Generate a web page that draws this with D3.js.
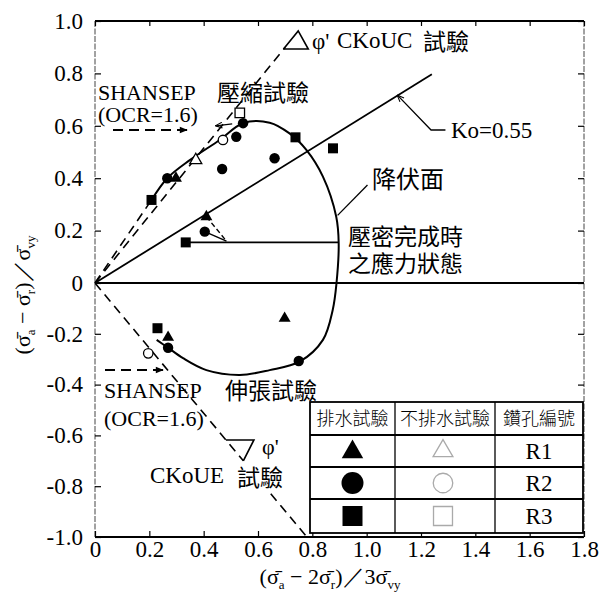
<!DOCTYPE html>
<html>
<head>
<meta charset="utf-8">
<script src="https://cdn.jsdelivr.net/npm/d3@7"></script>
<style>
  body { margin: 0; background: #fff; }
  svg { display: block; }
</style>
</head>
<body>
<svg id="chart" width="607" height="600"></svg>
<script>
// ---- axis ticks ----
const xTicks = [0, 0.2, 0.4, 0.6, 0.8, 1.0, 1.2, 1.4, 1.6, 1.8];
const yTicks = [-1.0, -0.8, -0.6, -0.4, -0.2, 0, 0.2, 0.4, 0.6, 0.8, 1.0];

// ---- drained tests (filled symbols) ----
const drainedTriX  = [0.298, 0.410, 0.269, 0.698];
const drainedTriY  = [0.400, 0.253, -0.214, -0.139];
const drainedCircX = [0.266, 0.404, 0.468, 0.520, 0.545, 0.661, 0.269, 0.750];
const drainedCircY = [0.400, 0.196, 0.435, 0.558, 0.610, 0.476, -0.255, -0.307];
const drainedSqX   = [0.208, 0.334, 0.738, 0.876, 0.230];
const drainedSqY   = [0.317, 0.155, 0.556, 0.514, -0.178];

// ---- undrained tests (open symbols) ----
const undrTriX  = [0.371];
const undrTriY  = [0.469];
const undrCircX = [0.471, 0.196];
const undrCircY = [0.546, -0.277];
const undrSqX   = [0.533];
const undrSqY   = [0.649];

// ---- yield surface (降伏面) ----
const yieldX = [0.208, 0.266, 0.349, 0.459, 0.545, 0.643, 0.716, 0.778, 0.839, 0.888, 0.897, 0.889,
                0.875, 0.839, 0.753, 0.643, 0.533, 0.410, 0.324, 0.269, 0.227];
const yieldY = [0.317, 0.400, 0.469, 0.546, 0.610, 0.612, 0.571, 0.508, 0.406, 0.253, 0.152, 0.000,
                -0.106, -0.224, -0.310, -0.343, -0.362, -0.343, -0.296, -0.255, -0.224];

// ---- reference lines ----
const koX = [0, 1.24];            // Ko = 0.55 line
const koY = [0, 0.797];
const ckoucX = [0, 0.700];        // CKoUC failure line
const ckoucY = [0, 0.900];
const shansepX = [0, 0.208];      // initial path up to the yield surface
const shansepY = [0, 0.317];
const ckoueX = [0, 0.546, 0.647, 0.780];  // CKoUE failure line (gap for its label)
const ckoueY = [0, -0.700, -0.830, -1.000];
const consolLevel = 0.155;        // stress state at end of consolidation
const consolX = [0.334, 0.897];

// ---- legend ----
const legendHeaders = ["排水試驗", "不排水試驗", "鑽孔編號"];
const boreholes = ["R1", "R2", "R3"];
const symbolTypes = [d3.symbolTriangle, d3.symbolCircle, d3.symbolSquare];

const svg = d3.select("#chart");
const serif = "Liberation Serif, Times New Roman, serif";
const cjk = "Noto Sans CJK TC, Noto Sans CJK SC, sans-serif";

const x = d3.scaleLinear().domain([0, 1.8]).range([95, 584]);
const y = d3.scaleLinear().domain([-1, 0, 1]).range([537, 283, 21]);
const pts = (xs, ys) => xs.map((v, i) => [v, ys[i]]);
const line = d3.line().x(d => x(d[0])).y(d => y(d[1]));

// arrow markers
const defs = svg.append("defs");
defs.append("marker").attr("id", "arrow").attr("viewBox", "0 0 10 10")
  .attr("refX", 9).attr("refY", 5).attr("markerWidth", 11).attr("markerHeight", 8)
  .attr("markerUnits", "userSpaceOnUse").attr("orient", "auto-start-reverse")
  .append("path").attr("d", "M0,1 L10,5 L0,9 Z").attr("fill", "#000");
defs.append("marker").attr("id", "thin").attr("viewBox", "0 0 10 10")
  .attr("refX", 9).attr("refY", 5).attr("markerWidth", 8).attr("markerHeight", 7)
  .attr("markerUnits", "userSpaceOnUse").attr("orient", "auto-start-reverse")
  .append("path").attr("d", "M0,1 L10,5 L0,9").attr("fill", "none").attr("stroke", "#000").attr("stroke-width", 1.5);

// ---- frame ----
const g = svg.append("g");
g.append("line").attr("x1", x(0)).attr("x2", x(1.8)).attr("y1", y(1)).attr("y2", y(1))
  .attr("stroke", "#000").attr("stroke-width", 2);
g.append("line").attr("x1", x(0)).attr("x2", x(1.8)).attr("y1", y(-1)).attr("y2", y(-1))
  .attr("stroke", "#000").attr("stroke-width", 2);
g.append("line").attr("x1", x(0)).attr("x2", x(0)).attr("y1", y(1)).attr("y2", y(-1))
  .attr("stroke", "#444").attr("stroke-width", 1).attr("stroke-dasharray", "6,1.5");
g.append("line").attr("x1", x(1.8)).attr("x2", x(1.8)).attr("y1", y(1)).attr("y2", y(-1))
  .attr("stroke", "#444").attr("stroke-width", 1).attr("stroke-dasharray", "6,1.5");

// ---- axes with inward ticks ----
const fmt = v => (v === 0 ? "0" : v.toFixed(1));
const yAxis = g.append("g").attr("transform", `translate(${x(0)},0)`)
  .call(d3.axisLeft(y).tickValues(yTicks).tickFormat(fmt).tickSizeInner(-6).tickSizeOuter(0).tickPadding(12));
const xAxis = g.append("g").attr("transform", `translate(0,${y(-1)})`)
  .call(d3.axisBottom(x).tickValues(xTicks).tickFormat(fmt).tickSizeInner(-6).tickSizeOuter(0).tickPadding(4));
g.append("g").attr("transform", `translate(${x(1.8)},0)`)
  .call(d3.axisRight(y).tickValues(yTicks).tickFormat("").tickSizeInner(-6).tickSizeOuter(0));
g.append("g").attr("transform", `translate(0,${y(1)})`)
  .call(d3.axisTop(x).tickValues(xTicks).tickFormat("").tickSizeInner(-5).tickSizeOuter(0));
g.selectAll(".domain").remove();
g.selectAll(".tick line").attr("stroke", "#000").attr("stroke-width", 1.2);
[yAxis, xAxis].forEach(a => {
  a.attr("font-family", serif).attr("font-size", 23);
  a.selectAll("text").attr("font-family", serif).attr("font-size", 23).attr("fill", "#000");
});

// ---- zero line ----
g.append("path").attr("d", line([[0, 0], [1.8, 0]]))
  .attr("stroke", "#000").attr("stroke-width", 1.8).attr("fill", "none");

// ---- Ko line ----
g.append("path").attr("d", line(pts(koX, koY)))
  .attr("stroke", "#000").attr("stroke-width", 1.8).attr("fill", "none");

// ---- failure lines (dashed) ----
const dashed = (d, w = 1.6) => g.append("path").attr("d", d)
  .attr("stroke", "#000").attr("stroke-width", w).attr("fill", "none").attr("stroke-dasharray", "9,6");
dashed(line(pts(ckoucX, ckoucY)));
dashed(line(pts(shansepX, shansepY)));
const ck = pts(ckoueX, ckoueY);
dashed(line(ck.slice(0, 2)));
dashed(line(ck.slice(2, 4)));

// angle markers (ϕ')
g.append("path").attr("d", line([[0.694, 0.893], [0.785, 0.893], [0.748, 0.962], [0.694, 0.893]]))
  .attr("stroke", "#000").attr("stroke-width", 1.6).attr("fill", "none");
g.append("path").attr("d", line([[0.482, -0.618], [0.585, -0.618], [0.546, -0.700]]))
  .attr("stroke", "#000").attr("stroke-width", 1.6).attr("fill", "none");

// ---- yield surface ----
g.append("path").attr("d", d3.line().x(d => x(d[0])).y(d => y(d[1]))
    .curve(d3.curveCatmullRom.alpha(0.5))(pts(yieldX, yieldY)))
  .attr("stroke", "#000").attr("stroke-width", 2).attr("fill", "none");

// ---- end-of-consolidation state line and stress paths ----
g.append("path").attr("d", line([[consolX[0], consolLevel], [consolX[1], consolLevel]]))
  .attr("stroke", "#000").attr("stroke-width", 1.8).attr("fill", "none");
g.append("path").attr("d", line([[drainedTriX[1], drainedTriY[1]], [0.484, 0.160]]))
  .attr("stroke", "#000").attr("stroke-width", 1.4).attr("fill", "none").attr("stroke-dasharray", "5,3");
g.append("path").attr("d", line([[drainedCircX[1], drainedCircY[1]], [0.484, 0.160]]))
  .attr("stroke", "#000").attr("stroke-width", 1.4).attr("fill", "none");
// short undrained arrow near the peak
g.append("path").attr("d", line([[0.505, 0.607], [0.445, 0.600]]))
  .attr("stroke", "#000").attr("stroke-width", 1.3).attr("fill", "none").attr("marker-end", "url(#thin)");

// ---- leader lines ----
g.append("path").attr("d", line([[1.114, 0.716], [1.237, 0.584], [1.290, 0.584]]))
  .attr("stroke", "#000").attr("stroke-width", 1.3).attr("fill", "none").attr("marker-start", "url(#thin)");
g.append("path").attr("d", line([[1.003, 0.374], [0.893, 0.258]]))
  .attr("stroke", "#000").attr("stroke-width", 1.3).attr("fill", "none");

// ---- data symbols ----
function drawSymbols(xs, ys, type, size, filled) {
  g.selectAll(null).data(pts(xs, ys)).enter().append("path")
    .attr("transform", d => `translate(${x(d[0])},${y(d[1])})`)
    .attr("d", d3.symbol().type(type).size(size))
    .attr("fill", filled ? "#000" : "#fff")
    .attr("stroke", "#000").attr("stroke-width", filled ? 0 : 1.3);
}
drawSymbols(drainedTriX, drainedTriY, d3.symbolTriangle, 62, true);
drawSymbols(drainedCircX, drainedCircY, d3.symbolCircle, 85, true);
drawSymbols(drainedSqX, drainedSqY, d3.symbolSquare, 100, true);
drawSymbols(undrTriX, undrTriY, d3.symbolTriangle, 62, false);
drawSymbols(undrCircX, undrCircY, d3.symbolCircle, 70, false);
drawSymbols(undrSqX, undrSqY, d3.symbolSquare, 90, false);

// ---- dashed arrows for SHANSEP ----
svg.append("line").attr("x1", 113).attr("y1", 130).attr("x2", 187).attr("y2", 130)
  .attr("stroke", "#000").attr("stroke-width", 2).attr("stroke-dasharray", "10,6").attr("marker-end", "url(#arrow)");
svg.append("line").attr("x1", 105).attr("y1", 370).attr("x2", 163).attr("y2", 370)
  .attr("stroke", "#000").attr("stroke-width", 2).attr("stroke-dasharray", "10,6").attr("marker-end", "url(#arrow)");

// ---- annotation text ----
function txt(s, px, py, fam, size, anchor = "start") {
  return svg.append("text").attr("x", px).attr("y", py).attr("font-family", fam)
    .attr("font-size", size).attr("text-anchor", anchor).attr("fill", "#000").text(s);
}
txt("φ'", 312, 49, serif, 23);
txt("CKoUC", 337, 48, serif, 23);
txt("試驗", 423, 50, cjk, 23);
txt("SHANSEP", 98, 100, serif, 22);
txt("壓縮試驗", 217, 101, cjk, 23);
txt("(OCR=1.6)", 98, 122, serif, 22);
txt("Ko=0.55", 451, 138, serif, 23);
txt("降伏面", 372, 188, cjk, 24);
txt("壓密完成時", 348, 245, cjk, 23);
txt("之應力狀態", 348, 272, cjk, 23);
txt("SHANSEP", 104, 398, serif, 22);
txt("伸張試驗", 225, 399, cjk, 23);
txt("(OCR=1.6)", 104, 426, serif, 22);
txt("φ'", 262, 454, serif, 22);
txt("CKoUE", 150, 483, serif, 23);
txt("試驗", 237, 486, cjk, 23);

// ---- axis titles ----
function richLabel(parts, px, py, rotate) {
  const t = svg.append("text").attr("font-family", serif).attr("font-size", 22)
    .attr("text-anchor", "middle").attr("fill", "#000")
    .attr("transform", `translate(${px},${py})` + (rotate ? " rotate(-90)" : ""));
  let shift = 0;
  parts.forEach(p => {
    const sub = p[1] === "sub";
    const dy = sub ? 5 - shift : -shift;
    shift = sub ? 5 : 0;
    t.append("tspan").attr("dy", dy).attr("font-size", sub ? 13 : 22).text(p[0]);
  });
}
richLabel([["(σ̄"], ["a", "sub"], [" − σ̄"], ["r", "sub"], [")／σ̄"], ["vy", "sub"]], 30, 295, true);
richLabel([["(σ̄"], ["a", "sub"], [" − 2σ̄"], ["r", "sub"], [")／3σ̄"], ["vy", "sub"]], 330, 584, false);

// ---- legend table ----
const L = { x0: 310, x1: 583, c1: 395, c2: 495, rows: [402, 435, 467, 499, 533] };
const lg = svg.append("g");
lg.append("rect").attr("x", L.x0).attr("y", L.rows[0]).attr("width", L.x1 - L.x0)
  .attr("height", L.rows[4] - L.rows[0]).attr("fill", "#fff").attr("stroke", "#000").attr("stroke-width", 1.8);
L.rows.slice(1, 4).forEach((ry, i) => lg.append("line").attr("x1", L.x0).attr("x2", L.x1)
  .attr("y1", ry).attr("y2", ry).attr("stroke", "#000").attr("stroke-width", i === 0 ? 2.2 : 1.8));
[L.c1, L.c2].forEach(cx => lg.append("line").attr("x1", cx).attr("x2", cx)
  .attr("y1", L.rows[0]).attr("y2", L.rows[4]).attr("stroke", "#000").attr("stroke-width", 1.3));
const colMid = [(L.x0 + L.c1) / 2, (L.c1 + L.c2) / 2, (L.c2 + L.x1) / 2];
legendHeaders.forEach((h, i) => lg.append("text").attr("x", colMid[i]).attr("y", 425)
  .attr("text-anchor", "middle").attr("font-family", cjk).attr("font-size", 18)
  .attr("font-weight", 300).attr("fill", "#000").text(h));
boreholes.forEach((b, i) => {
  const cy = (L.rows[i + 1] + L.rows[i + 2]) / 2;
  lg.append("path").attr("transform", `translate(${colMid[0]},${cy + (i === 0 ? 1 : 0)})`)
    .attr("d", d3.symbol().type(symbolTypes[i]).size([200, 380, 400][i])).attr("fill", "#000");
  lg.append("path").attr("transform", `translate(${colMid[1] - 2},${cy})`)
    .attr("d", d3.symbol().type(symbolTypes[i]).size([170, 300, 360][i]))
    .attr("fill", "none").attr("stroke", "#aaa").attr("stroke-width", 1.3);
  lg.append("text").attr("x", colMid[2]).attr("y", cy + 8).attr("text-anchor", "middle")
    .attr("font-family", serif).attr("font-size", 23).attr("fill", "#000").text(b);
});
</script>
</body>
</html>
